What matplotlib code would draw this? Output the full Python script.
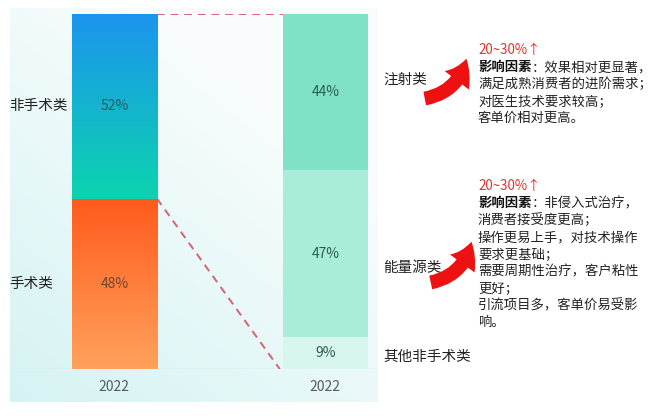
import numpy as np
import matplotlib
matplotlib.use("Agg")
import matplotlib.pyplot as plt
from matplotlib.colors import LinearSegmentedColormap
from matplotlib.patches import FancyArrowPatch

plt.rcParams['font.family'] = ['Noto Sans CJK SC', 'DejaVu Sans']

# ---- data ----
years = ["2022", "2022"]
left_cats = ["非手术类", "手术类"]
left_vals = [52, 48]
right_cats = ["注射类", "能量源类", "其他非手术类"]
right_vals = [44, 47, 9]
growth = "20~30%↑"
notes_injection = ["效果相对更显著，", "满足成熟消费者的进阶需求；",
                   "对医生技术要求较高；", "客单价相对更高。"]
notes_energy = ["非侵入式治疗，", "消费者接受度更高；", "操作更易上手，对技术操作",
                "要求更基础；", "需要周期性治疗，客户粘性", "更好；",
                "引流项目多，客单价易受影", "响。"]

W, H = 662, 416
fig = plt.figure(figsize=(W / 100, H / 100), dpi=100)
fig.patch.set_facecolor("white")

# soft washed backdrop behind the chart area
bg = fig.add_axes([10 / W, (H - 402) / H, 368 / W, 394 / H], zorder=0)
yy, xx = np.mgrid[0:1:200j, 0:1:200j]
t = np.clip(0.75 * yy + 0.55 * (1 - xx) - 0.35, 0, 1)
c0 = np.array([0.975, 0.99, 0.992])
c1 = np.array([0.83, 0.95, 0.95])
img = c0[None, None, :] * (1 - t[..., None]) + c1[None, None, :] * t[..., None]
bg.imshow(img, aspect="auto", extent=(0, 1, 0, 1), origin="upper")
bg.axis("off")

# main bar axes
ax = fig.add_axes([10 / W, (H - 369) / H, 365 / W, 355 / H], zorder=2)
ax.patch.set_alpha(0)
xmin, xmax = -0.495, 1.235
ax.set_xlim(xmin, xmax)
ax.set_ylim(0, 100)
bw = 0.403
x = np.array([0, 1])

def gradient_bar(x0, bottom, height, c_top, c_bot):
    bar = ax.bar(x0, height, bottom=bottom, width=bw, color="none", linewidth=0)[0]
    cmap = LinearSegmentedColormap.from_list("g", [c_bot, c_top])
    grad = np.linspace(0, 1, 256).reshape(-1, 1)
    im = ax.imshow(grad, cmap=cmap, aspect="auto", origin="lower",
                   extent=(bar.get_x(), bar.get_x() + bar.get_width(),
                           bottom, bottom + height), zorder=2)
    im.set_clip_path(bar)
    return bar

# left stacked bar: non-surgical on top, surgical below
gradient_bar(x[0], left_vals[1], left_vals[0], "#1c94ee", "#0cd4ae")
gradient_bar(x[0], 0, left_vals[1], "#ff5a1c", "#ffa25c")
ax.text(x[0], left_vals[1] + left_vals[0] / 2, f"{left_vals[0]}%", ha="center", va="center",
        fontsize=10, color="#2d5566", zorder=4)
ax.text(x[0], left_vals[1] / 2, f"{left_vals[1]}%", ha="center", va="center",
        fontsize=10, color="#6e4636", zorder=4)

# right stacked bar: breakdown of the non-surgical share
green = ["#7fe2c6", "#a9ecda", "#d6f6ee"]
bottoms = [right_vals[2] + right_vals[1], right_vals[2], 0]
for v, b, c in zip(right_vals, bottoms, green):
    ax.bar(x[1], v, bottom=b, width=bw, color=c, linewidth=0, zorder=2)
    ax.text(x[1], b + v / 2, f"{v}%", ha="center", va="center",
            fontsize=10, color="#2f5a50", zorder=4)

# dashed connectors
dash_kw = dict(color="#d46272", lw=1.4, ls=(0, (4, 3)), zorder=3)
ax.plot([x[0] + bw / 2, x[1] - bw / 2], [100, 100], **dash_kw)
ax.plot([x[0] + bw / 2, x[1] - bw / 2 - 0.015], [left_vals[1], 0], **dash_kw)

# axis styling
ax.axhline(0, color="#d2dcdc", lw=1.0, zorder=1)
for s in ax.spines.values():
    s.set_visible(False)
ax.set_yticks([])
ax.set_xticks(x)
ax.set_xticklabels(years, fontsize=10, color="#555b5e")
ax.tick_params(axis="x", length=0, pad=8)

# annotation overlay in pixel coordinates
ov = fig.add_axes([0, 0, 1, 1], zorder=5)
ov.set_xlim(0, W)
ov.set_ylim(H, 0)
ov.axis("off")

ov.text(9, 106, left_cats[0], fontsize=10.5, color="#222", va="center", ha="left")
ov.text(9, 284, left_cats[1], fontsize=10.5, color="#222", va="center", ha="left")
ov.text(383, 80, right_cats[0], fontsize=10.5, color="#222", va="center", ha="left")
ov.text(383, 268, right_cats[1], fontsize=10.5, color="#222", va="center", ha="left")
ov.text(383, 357, right_cats[2], fontsize=10.5, color="#222", va="center", ha="left")

for tail, tip in [((422, 99), (467, 56)), ((428, 283), (472, 239))]:
    arr = FancyArrowPatch(tail, tip, connectionstyle="arc3,rad=0.35",
                          arrowstyle="simple,head_length=17,head_width=22,tail_width=10",
                          color="#ee1111", lw=0, mutation_scale=1, zorder=6)
    ov.add_patch(arr)

fs = 9.6
def note_block(y0, lines):
    ov.text(478, y0, growth, fontsize=fs, color="#e03333", va="center", ha="left")
    y = y0 + 17
    ov.text(478, y, "影响因素", fontsize=fs, color="#111", va="center", ha="left",
            fontweight="bold")
    ov.annotate("：" + lines[0], xy=(478, y), xytext=(4 * fs, 0), textcoords="offset points",
                fontsize=fs, color="#222", va="center", ha="left")
    for ln in lines[1:]:
        y += 17
        ov.text(478, y, ln, fontsize=fs, color="#222", va="center", ha="left")

note_block(50, notes_injection)
note_block(186, notes_energy)

fig.savefig("out.png", dpi=100)
